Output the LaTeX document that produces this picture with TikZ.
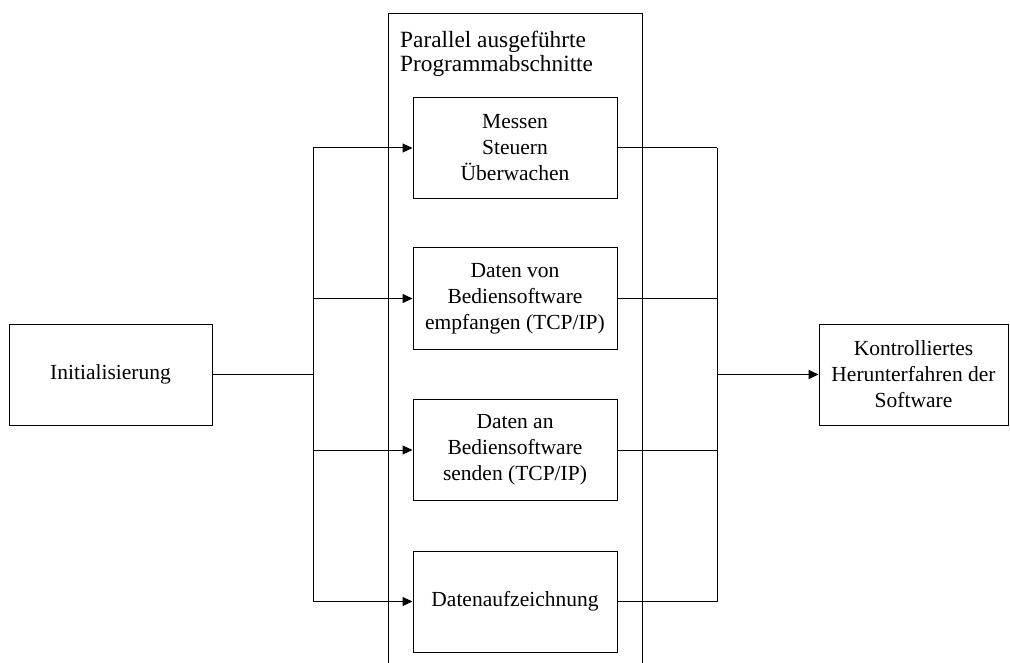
\documentclass[tikz,border=0pt]{standalone}
\usepackage{fontspec}
\setmainfont{Liberation Serif}
\usetikzlibrary{arrows.meta}
\begin{document}
\begin{tikzpicture}[x=1pt,y=-1pt,
  box/.style={draw, line width=1pt, minimum width=204pt, minimum height=101pt,
    align=center, inner sep=0pt, font=\fontsize{21.5}{26}\selectfont},
  wire/.style={line width=1pt},
  thick wire/.style={line width=1.8pt},
  tip/.style={-{Triangle[length=10pt,width=9pt]}},
  arr/.style={line width=1pt, tip},
  thick arr/.style={line width=1.8pt, tip}]
\useasboundingbox (0,0) rectangle (1010,663);
\clip (0,0) rectangle (1010,663);

% container for the parallel sections
\node[draw, line width=1pt, minimum width=254pt, minimum height=667pt, inner sep=0pt,
      anchor=north west] (par) at (388,13) {};
\node[anchor=north west, align=left, inner sep=0pt,
      font=\fontsize{23.3}{24}\selectfont] (partitle) at (400,31)
  {Parallel ausgeführte\\Programmabschnitte};

% blocks
\node[box, minimum width=203pt] (init) at (110.5,374.5) {Initialisierung};
\node[box] (b1) at (515,148) {Messen\\Steuern\\Überwachen};
\node[box] (b2) at (515,298.5) {Daten von\\Bediensoftware\\empfangen (TCP/IP)};
\node[box] (b3) at (515,450) {Daten an\\Bediensoftware\\senden (TCP/IP)};
\node[box] (b4) at (515,601.5) {Datenaufzeichnung};
\node[box, minimum width=189pt] (end) at (913.5,374.5) {Kontrolliertes\\Herunterfahren der\\Software};

% fork and join points
\coordinate (fork) at (313,374.5);
\coordinate (join) at (717,374.5);

% fan out
\draw[thick wire] (init.east) -- (fork);
\draw[wire] (b1.west -| fork) -- (b4.west -| fork);
\draw[arr] (b1.west -| fork) -- (b1.west);
\draw[arr] (b2.west -| fork) -- (b2.west);
\draw[arr] (b3.west -| fork) -- (b3.west);
\draw[arr] (b4.west -| fork) -- (b4.west);

% fan in
\draw[wire] (b1.east) -- (b1.east -| join);
\draw[wire] (b2.east) -- (b2.east -| join);
\draw[wire] (b3.east) -- (b3.east -| join);
\draw[wire] (b4.east) -- (b4.east -| join);
\draw[wire] (b1.east -| join) -- (b4.east -| join);
\draw[thick arr] (join) -- (end.west);
\end{tikzpicture}
\end{document}
